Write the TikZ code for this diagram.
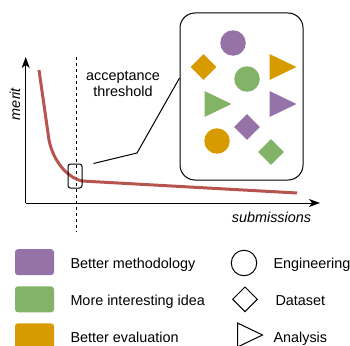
\documentclass[tikz,border=0pt]{standalone}
\usepackage{fontspec}
\setmainfont{Liberation Sans}
\usetikzlibrary{shapes.geometric,arrows.meta}
\definecolor{purp}{HTML}{9673A6}
\definecolor{grn}{HTML}{82B366}
\definecolor{orng}{HTML}{D79B00}
\definecolor{curvered}{HTML}{B85450}

\begin{document}
\begin{tikzpicture}[x=1pt, y=1pt, yscale=-1, line width=1pt,
  font=\fontsize{14.4}{16.7}\selectfont,
  circ/.style={circle, inner sep=0pt, minimum size=25.5pt},
  diam/.style={diamond, inner sep=0pt, minimum size=26pt},
  tri/.style={isosceles triangle, isosceles triangle stretches, inner sep=0pt,
              minimum width=26pt, minimum height=27pt, anchor=west},
  swatch/.style={rectangle, rounded corners=3pt, inner sep=0pt,
                 minimum width=39pt, minimum height=26pt},
  axisline/.style={-{Stealth[length=11pt, width=8pt, inset=3pt]}},
  slanted/.style={font=\fontsize{14.4}{16.7}\selectfont\itshape}]
  \useasboundingbox (0,0) rectangle (350,345);
  % Axes
  \coordinate (origin) at (25.7,203);
  \coordinate (ytop) at (25.7,57);
  \coordinate (xend) at (320,203);
  \draw[axisline] (origin) -- (ytop);
  \draw[axisline] (origin) -- (xend);
  \node[rotate=90, anchor=base, inner sep=0pt, slanted] (merit) at (20,104) {merit};
  \node[anchor=base, inner sep=0pt, slanted] (subm) at (271.5,222.3) {submissions};
  % Threshold
  \coordinate (thtop) at (76,57);
  \coordinate (thbot) at (76,232);
  \draw[dash pattern=on 3pt off 3pt] (thtop) -- (thbot);
  \node[align=center, inner sep=0pt] (thresh) at (123,84) {acceptance\\threshold};
  % Merit curve
  \draw[curvered, line width=3pt] (39,70) -- (49,140)
    .. controls (53,160) and (66,177) .. (82,181) -- (297,193);
  % Zoom box and pool
  \node[draw, rounded corners=2.5pt, minimum width=14pt, minimum height=24pt] (zoombox) at (75,176) {};
  \node[draw, rounded corners=15pt, minimum width=123pt, minimum height=167pt] (pool) at (241.5,96.5) {};
  \draw ([xshift=11pt]zoombox.north east) -- (137,153) -- ([yshift=-18.5pt]pool.west);
  \node[circ, fill=purp] (c1) at (233,43) {};
  \node[diam, fill=orng] (d1) at (203.5,67) {};
  \node[tri, fill=orng] (t1) at (269,67) {};
  \node[circ, fill=grn] (c2) at (247,79) {};
  \node[tri, fill=grn] (t2) at (204,104) {};
  \node[tri, fill=purp] (t3) at (269,104) {};
  \node[diam, fill=purp] (d2) at (247,127) {};
  \node[circ, fill=orng] (c3) at (217,141) {};
  \node[diam, fill=grn] (d3) at (271,152) {};
  % Legend colours
  \node[swatch, fill=purp] (sw1) at (34.5,262.2) {};
  \node[swatch, fill=grn] (sw2) at (34.5,299.3) {};
  \node[swatch, fill=orng] (sw3) at (34.5,336.3) {};
  \node[anchor=base west, inner sep=0pt] (l1) at (70,268.3) {Better methodology};
  \node[anchor=base west, inner sep=0pt] (l2) at (70,305.3) {More interesting idea};
  \node[anchor=base west, inner sep=0pt] (l3) at (70,342.3) {Better evaluation};
  % Legend shapes
  \node[circ, draw] (s1) at (244,263) {};
  \node[diam, draw, minimum size=25pt] (s2) at (245,299.3) {};
  \node[tri, draw, minimum width=24pt, minimum height=25pt] (s3) at (237,335) {};
  \node[anchor=base west, inner sep=0pt] (k1) at (273,268.3) {Engineering};
  \node[anchor=base west, inner sep=0pt] (k2) at (275,305.3) {Dataset};
  \node[anchor=base west, inner sep=0pt] (k3) at (273,342.3) {Analysis};
\end{tikzpicture}
\end{document}
